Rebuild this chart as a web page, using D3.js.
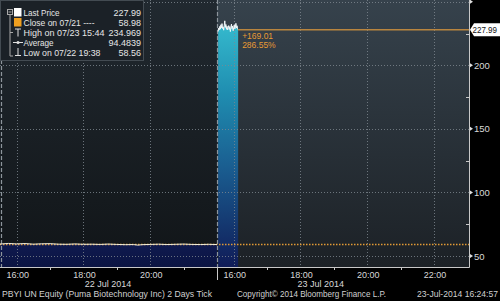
<!DOCTYPE html>
<html><head><meta charset="utf-8">
<script src="https://cdn.jsdelivr.net/npm/d3@7"></script>
<style>
html,body{margin:0;padding:0;background:#000;}
svg{display:block;font-family:"Liberation Sans",Arial,sans-serif;}
</style></head>
<body><svg id="c" width="500" height="301"></svg>
<script>
// ---------- data ----------
const day1Times = ["15:30","15:45","16:00","16:15","16:30","16:45","17:00","17:15","17:30","17:45","18:00","18:15","18:30","18:45","19:00","19:15","19:30","19:38","19:45","20:00","20:15","20:30","20:45","21:00","21:15","21:30","21:45","22:00"];
const day1Values = [59.4,59.9,59.5,59.8,59.3,59.6,59.7,59.3,59.2,59.5,59.2,59.3,59.1,59.4,59.1,58.9,59.0,58.56,58.9,59.1,59.3,59.0,59.2,59.4,59.1,59.0,59.2,59.0];
const day2Times = ["15:32","15:33","15:34","15:35","15:36","15:37","15:38","15:39","15:40","15:41","15:42","15:43","15:44","15:45","15:46","15:47","15:48","15:49","15:50","15:51","15:52","15:53","15:54","15:55","15:56","15:57","15:58","15:59","16:00","16:01","16:02","16:03","16:04","16:05","16:06","16:07","16:08"];
const day2Values = [226.5,229.2,227.8,230.6,228.4,231.9,229.5,232.8,228.9,230.2,227.6,231.4,234.97,229.8,232.1,228.3,230.7,227.9,229.6,231.2,228.1,230.4,226.5,229.9,232.4,228.8,230.9,227.2,229.4,231.8,228.6,230.1,233.0,229.3,231.1,228.7,227.99];
const sessions = [["2014-07-22 15:30","2014-07-22 22:00"],["2014-07-23 15:30","2014-07-23 23:03"]];
const yTicks = [50,100,150,200,250];
const yMinorTicks = [75,125,175,225];
const xTickLabels1 = ["16:00","18:00","20:00"];
const xTickLabels2 = ["16:00","18:00","20:00","22:00"];
const xMinor1 = ["17:00","19:00","21:00"];
const xMinor2 = ["17:00","19:00","21:00"];
const dateLabels = ["22 Jul 2014","23 Jul 2014"];
const legendLabels = ["Last Price","Close on 07/21 ----","High on 07/23 15:44","Average","Low on 07/22 19:38"];
const legendValues = ["227.99","58.98","234.969","94.4839","58.56"];
const lastPrice = 227.99, prevClose = 58.98;
const changeLabels = ["+169.01","286.55%"];
const footer = ["PBYI UN Equity (Puma Biotechnology Inc) 2 Days  Tick","Copyright\u00a9 2014 Bloomberg Finance L.P.","23-Jul-2014 16:24:57"];

// ---------- setup ----------
const svg = d3.select("#c");
const W = 469, H = 267;
const parse = d3.timeParse("%Y-%m-%d %H:%M");
const d1 = t => parse("2014-07-22 " + t), d2 = t => parse("2014-07-23 " + t);
const s = sessions.map(p => p.map(parse));
const x = d3.scaleTime().domain([s[0][0], s[0][1], s[1][0], s[1][1]]).range([0, 217, 217, W]);
const y = d3.scaleLinear().domain([41.35, 251.35]).range([H, 0]);
const sep = x(s[0][1]);

const defs = svg.append("defs");
function grad(id, stops, y1, y2){
  const g = defs.append("linearGradient").attr("id", id).attr("gradientUnits","userSpaceOnUse")
    .attr("x1",0).attr("x2",0).attr("y1",y1).attr("y2",y2);
  stops.forEach(([o,c]) => g.append("stop").attr("offset",o).attr("stop-color",c));
}
grad("bgL", [[0,"#212930"],[1,"#111518"]], 0, H);
grad("bgR", [[0,"#36424c"],[1,"#1c2126"]], 0, H);
grad("fill2", [[0,"#36bccf"],[0.3,"#1f8db0"],[0.6,"#1a5d90"],[1,"#101c58"]], 20, H);
grad("fill1", [[0,"#101b52"],[1,"#0b1442"]], 240, H);

svg.append("rect").attr("width",500).attr("height",301).attr("fill","#000");
svg.append("rect").attr("x",0).attr("y",0).attr("width",sep).attr("height",H).attr("fill","url(#bgL)");
svg.append("rect").attr("x",sep).attr("y",0).attr("width",W-sep).attr("height",H).attr("fill","url(#bgR)");

// area fills
const area = d3.area().x(d => x(d.t)).y0(H).y1(d => y(d.v));
const line = d3.line().x(d => x(d.t)).y(d => y(d.v));
const ser1 = day1Times.map((t,i) => ({t:d1(t), v:day1Values[i]}));
const ser2 = day2Times.map((t,i) => ({t:d2(t), v:day2Values[i]}));
svg.append("path").datum(ser1).attr("d", area).attr("fill","url(#fill1)");
svg.append("path").datum(ser2).attr("d", area).attr("fill","url(#fill2)");

// gridlines
const grid = svg.append("g").attr("stroke","#7f8890").attr("stroke-width",1).attr("stroke-dasharray","1,2").attr("opacity",0.8);
yTicks.forEach(v => grid.append("line").attr("x1",0).attr("x2",W).attr("y1",Math.round(y(v))+0.5).attr("y2",Math.round(y(v))+0.5));
xTickLabels1.map(d1).concat(xTickLabels2.map(d2)).forEach(t => {
  const xx = Math.round(x(t))+0.5;
  grid.append("line").attr("x1",xx).attr("x2",xx).attr("y1",0).attr("y2",H);
});
// session separators
[1, sep].forEach(xx => svg.append("line").attr("x1",Math.round(xx)+0.5).attr("x2",Math.round(xx)+0.5)
  .attr("y1",0).attr("y2",H).attr("stroke","#8d959c").attr("stroke-width",1.2).attr("stroke-dasharray","4,2"));

// previous close dotted line
svg.append("line").attr("x1",0).attr("x2",W).attr("y1",y(prevClose)).attr("y2",y(prevClose))
  .attr("stroke","#e29a35").attr("stroke-width",1.5).attr("stroke-dasharray","1.5,1.5");

// price lines
svg.append("path").datum(ser1).attr("d", line).attr("fill","none").attr("stroke","#f0ecd8").attr("stroke-width",1);
svg.append("path").datum(ser2).attr("d", line).attr("fill","none").attr("stroke","#f4f8fa").attr("stroke-width",1);

// last price line
const lastT = ser2[ser2.length-1].t;
svg.append("line").attr("x1",x(lastT)).attr("x2",W).attr("y1",y(lastPrice)).attr("y2",y(lastPrice))
  .attr("stroke","#b9853f").attr("stroke-width",1.6);

// change annotation
changeLabels.forEach((txt,i) => svg.append("text").attr("x",x(lastT)+4).attr("y",y(lastPrice)+9+i*9.5)
  .attr("fill","#e89a34").attr("font-size",8.5).text(txt));

// axes
svg.append("line").attr("x1",0).attr("x2",W+0.5).attr("y1",H+0.5).attr("y2",H+0.5).attr("stroke","#c8c8c8");
svg.append("line").attr("x1",W+0.5).attr("x2",W+0.5).attr("y1",0).attr("y2",H+0.5).attr("stroke","#c8c8c8");
const yAxis = svg.append("g");
yTicks.forEach(v => {
  const yy = y(v);
  yAxis.append("path").attr("d",`M${W+1},${yy-2}L${W+4},${yy}L${W+1},${yy+2}Z`).attr("fill","#e0e0e0");
  if (v < 240) yAxis.append("text").attr("x",W+5).attr("y",yy+3.5).attr("fill","#d8d8d8").attr("font-size",9.5).text(v);
});
yMinorTicks.forEach(v => yAxis.append("line").attr("x1",W-3).attr("x2",W).attr("y1",Math.round(y(v))+0.5).attr("y2",Math.round(y(v))+0.5).attr("stroke","#c8c8c8"));

// last price tag
const ly = y(lastPrice);
svg.append("path").attr("d",`M${W+1},${ly}L${W+5},${ly-6.5}H500V${ly+6.5}H${W+5}Z`).attr("fill","#ffffff");
svg.append("text").attr("x",472.5).attr("y",ly+3.5).attr("font-size",9.2).attr("fill","#111")
  .attr("textLength",24.5).attr("lengthAdjust","spacingAndGlyphs").text(lastPrice.toFixed(2));

// x axis labels and ticks
const xa = svg.append("g").attr("fill","#d8d8d8").attr("font-size",9).attr("text-anchor","middle");
xTickLabels1.forEach(t => xa.append("text").attr("x",x(d1(t))+1).attr("y",H+10.5).text(t));
xTickLabels2.forEach(t => xa.append("text").attr("x",x(d2(t))+1).attr("y",H+10.5).text(t));
xMinor1.map(d1).concat(xMinor2.map(d2)).forEach(t => svg.append("line").attr("x1",Math.round(x(t))+0.5).attr("x2",Math.round(x(t))+0.5)
  .attr("y1",H).attr("y2",H+3).attr("stroke","#c8c8c8"));
svg.append("line").attr("x1",Math.round(sep)+0.5).attr("x2",Math.round(sep)+0.5).attr("y1",H).attr("y2",H+13).attr("stroke","#c8c8c8");
xa.append("text").attr("x",108).attr("y",H+20).text(dateLabels[0]);
xa.append("text").attr("x",(x(d2("18:00"))+x(d2("20:00")))/2 - 13).attr("y",H+20).text(dateLabels[1]);

// footer
const ft = svg.append("g").attr("fill","#d0d0d0").attr("font-size",8.8);
ft.append("text").attr("x",2).attr("y",297).attr("textLength",210).attr("lengthAdjust","spacingAndGlyphs").text(footer[0]);
ft.append("text").attr("x",237).attr("y",297).attr("textLength",149).attr("lengthAdjust","spacingAndGlyphs").text(footer[1]);
ft.append("text").attr("x",417).attr("y",297).attr("textLength",81).attr("lengthAdjust","spacingAndGlyphs").text(footer[2]);

// legend
const lg = svg.append("g");
lg.append("rect").attr("x",0.5).attr("y",0.5).attr("width",143).attr("height",60).attr("fill","#1b2127").attr("stroke","#434b52");
const rowY = [12.5,22.5,32.5,42.5,52];
const gc = "#a8a8a8";
lg.append("rect").attr("x",7.5).attr("y",9.5).attr("width",5).attr("height",5).attr("fill","none").attr("stroke",gc);
lg.append("line").attr("x1",8.5).attr("x2",11.5).attr("y1",12).attr("y2",12).attr("stroke",gc);
lg.append("line").attr("x1",10).attr("x2",10).attr("y1",14.5).attr("y2",rowY[4]+4).attr("stroke",gc);
lg.append("line").attr("x1",10).attr("x2",13).attr("y1",rowY[4]+4).attr("y2",rowY[4]+4).attr("stroke",gc);
lg.append("line").attr("x1",10).attr("x2",13).attr("y1",rowY[2]).attr("y2",rowY[2]).attr("stroke",gc);
lg.append("rect").attr("x",14).attr("y",rowY[0]-4.5).attr("width",7.5).attr("height",8.5).attr("fill","#ffffff");
lg.append("rect").attr("x",14).attr("y",rowY[1]-4.5).attr("width",7.5).attr("height",8.5).attr("fill","#f0a020");
const ic = "#e0e0e0";
lg.append("line").attr("x1",15).attr("x2",21).attr("y1",rowY[2]-3.5).attr("y2",rowY[2]-3.5).attr("stroke",ic);
lg.append("line").attr("x1",18).attr("x2",18).attr("y1",rowY[2]-3.5).attr("y2",rowY[2]+4).attr("stroke",ic);
lg.append("line").attr("x1",13).attr("x2",23).attr("y1",rowY[3]).attr("y2",rowY[3]).attr("stroke",ic);
lg.append("circle").attr("cx",18).attr("cy",rowY[3]).attr("r",1.5).attr("fill",ic);
lg.append("line").attr("x1",18).attr("x2",18).attr("y1",rowY[4]-4).attr("y2",rowY[4]+3.5).attr("stroke",ic);
lg.append("line").attr("x1",15).attr("x2",21).attr("y1",rowY[4]+3.5).attr("y2",rowY[4]+3.5).attr("stroke",ic);
const labW = [36,71,81,30,77];
legendLabels.forEach((t,i) => {
  lg.append("text").attr("x",23.5).attr("y",rowY[i]+3.5).attr("fill","#e6e6e6").attr("font-size",9)
    .attr("textLength",labW[i]).attr("lengthAdjust","spacingAndGlyphs").text(t);
  lg.append("text").attr("x",141).attr("y",rowY[i]+3.5).attr("fill","#e6e6e6").attr("font-size",9).attr("text-anchor","end").text(legendValues[i]);
});
</script></body></html>
